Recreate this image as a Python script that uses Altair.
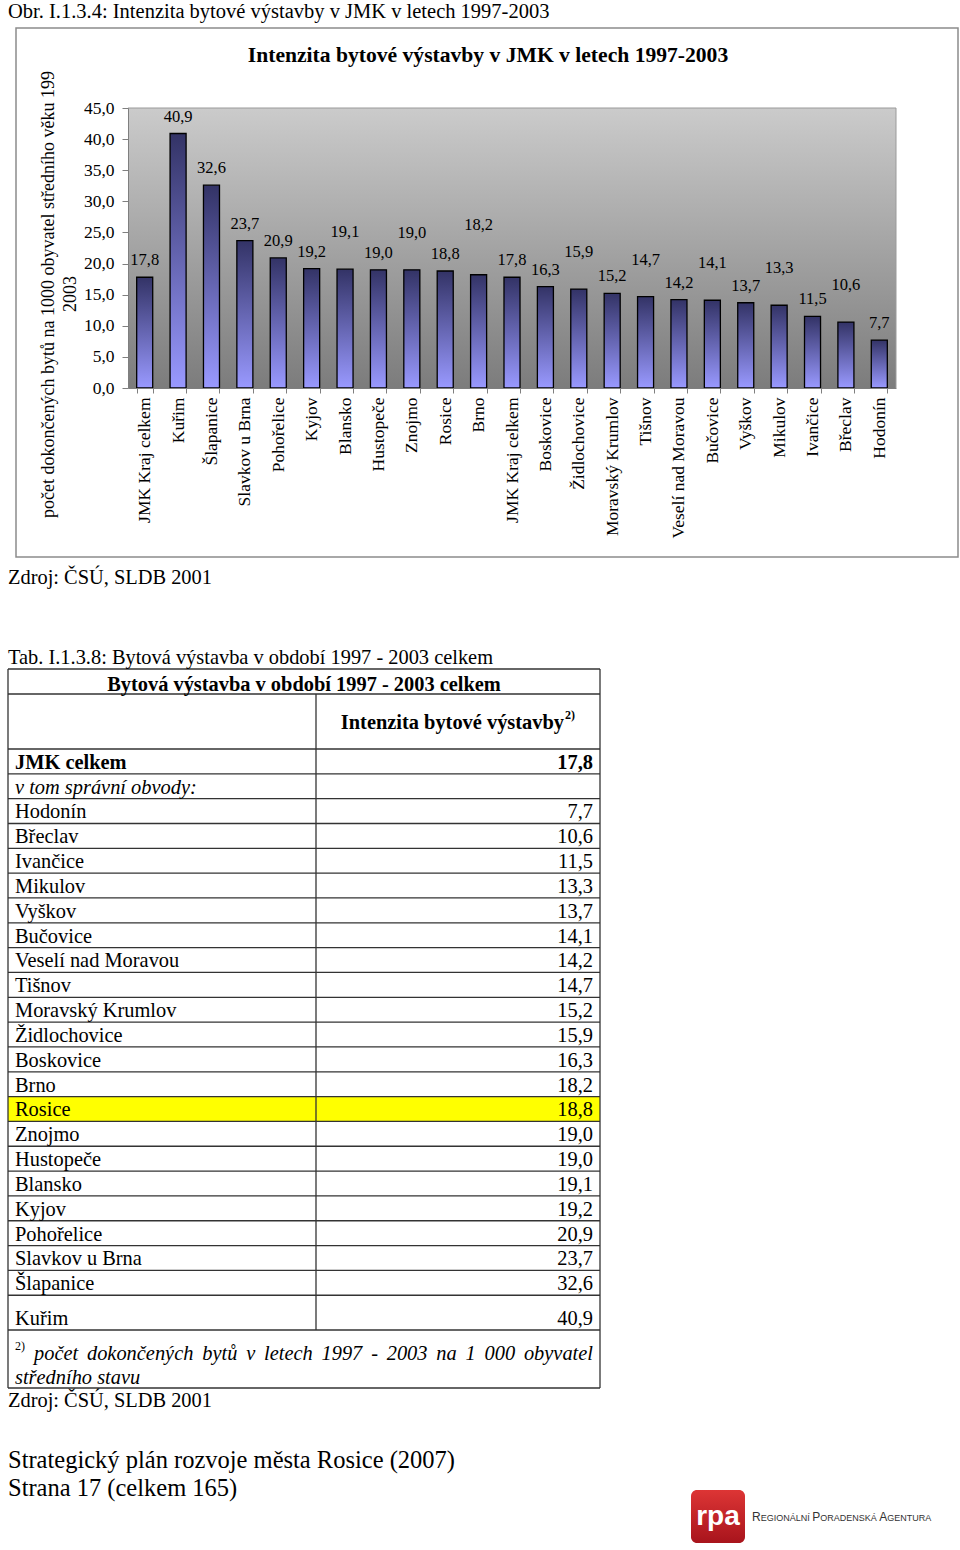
import json
import altair as alt
import pandas as pd

SERIF = "Liberation Serif"
SANS = "Liberation Sans"

# ---------------- data ----------------
bar_categories = ["JMK Kraj celkem", "Kuřim", "Šlapanice", "Slavkov u Brna", "Pohořelice", "Kyjov",
                  "Blansko", "Hustopeče", "Znojmo", "Rosice", "Brno", "JMK Kraj celkem", "Boskovice",
                  "Židlochovice", "Moravský Krumlov", "Tišnov", "Veselí nad Moravou", "Bučovice",
                  "Vyškov", "Mikulov", "Ivančice", "Břeclav", "Hodonín"]
bar_values = [17.8, 40.9, 32.6, 23.7, 20.9, 19.2, 19.1, 19.0, 19.0, 18.8, 18.2, 17.8, 16.3,
              15.9, 15.2, 14.7, 14.2, 14.1, 13.7, 13.3, 11.5, 10.6, 7.7]
y_tick_values = [0, 5, 10, 15, 20, 25, 30, 35, 40, 45]

table_names = ["JMK celkem", "v tom správní obvody:", "Hodonín", "Břeclav", "Ivančice", "Mikulov",
               "Vyškov", "Bučovice", "Veselí nad Moravou", "Tišnov", "Moravský Krumlov",
               "Židlochovice", "Boskovice", "Brno", "Rosice", "Znojmo", "Hustopeče", "Blansko",
               "Kyjov", "Pohořelice", "Slavkov u Brna", "Šlapanice", "Kuřim"]
table_values = [17.8, None, 7.7, 10.6, 11.5, 13.3, 13.7, 14.1, 14.2, 14.7, 15.2, 15.9, 16.3,
                18.2, 18.8, 19.0, 19.0, 19.1, 19.2, 20.9, 23.7, 32.6, 40.9]
highlight_name = "Rosice"
footnote_line1 = "počet dokončených bytů v letech 1997 - 2003 na 1 000 obyvatel"
logo_words = ["Regionální", "Poradenská", "Agentura"]

# ---------------- layout / style ----------------
label_row = [0, 0, 0, 0, 0, 0, 1, 0, 1, 0, 2, 0, 0, 1, 0, 1, 0, 1, 0, 1, 0, 1, 0]
row_span = [1.0] * 22 + [1.4]
P1X, P1Y, P1W, P1H = 128, 108, 768, 280
P2X, P2Y, P2W, P2H = 128, 749, 472, 581
LINE = "#333333"
COMMA = "replace(format(datum.v, '.1f'), '.', ',')"

BAR_GRAD = {"gradient": "linear", "x1": 0, "y1": 0, "x2": 0, "y2": 1,
            "stops": [{"offset": 0, "color": "#333366"}, {"offset": 1, "color": "#9999ff"}]}
BG_GRAD = {"gradient": "linear", "x1": 0, "y1": 0, "x2": 0, "y2": 1,
           "stops": [{"offset": 0, "color": "#cbcbcb"}, {"offset": 1, "color": "#7c7c7c"}]}
LOGO_GRAD = {"gradient": "linear", "x1": 0, "y1": 0, "x2": 0, "y2": 1,
             "stops": [{"offset": 0, "color": "#dd3535"}, {"offset": 1, "color": "#a8141c"}]}

# approximate advance widths (em) of Times italic glyphs, used to justify the footnote line
ITALIC_EM = {"a": .5, "b": .5, "c": .444, "č": .444, "d": .5, "e": .444, "ě": .444, "h": .5,
             "k": .444, "l": .278, "n": .5, "o": .5, "p": .5, "t": .278, "u": .5, "ů": .5,
             "v": .444, "y": .444, "ý": .444, "-": .333}
# approximate advance widths (em) of sans capitals, used for the small-caps logo text
SANS_EM = {"A": .667, "Á": .667, "D": .722, "E": .667, "G": .778, "I": .278, "Í": .278,
           "K": .667, "L": .556, "N": .722, "O": .778, "P": .667, "R": .722, "S": .667,
           "T": .611, "U": .722}

one = pd.DataFrame({"k": [0]})


def txt(s, x, y, ox, oy, size=20.4, **kw):
    props = dict(text=s, font=SERIF, fontSize=size, align="left", baseline="alphabetic", color="black")
    props.update(kw)
    return alt.Chart(one).mark_text(**props).encode(x=alt.value(x - ox), y=alt.value(y - oy))


def box(x1, y1, x2, y2, ox, oy, **kw):
    return alt.Chart(one).mark_rect(**kw).encode(
        x=alt.value(x1 - ox), x2=alt.value(x2 - ox), y=alt.value(y1 - oy), y2=alt.value(y2 - oy))


def hline(x1, x2, y, ox, oy, **kw):
    return alt.Chart(one).mark_rule(**kw).encode(
        x=alt.value(x1 - ox), x2=alt.value(x2 - ox), y=alt.value(y - oy))


def vline(x, y1, y2, ox, oy, **kw):
    return alt.Chart(one).mark_rule(**kw).encode(
        x=alt.value(x - ox), y=alt.value(y1 - oy), y2=alt.value(y2 - oy))


def justified(s, x_left, x_right, y, ox, oy, size=20.4, **kw):
    words = s.split(" ")
    widths = [sum(ITALIC_EM.get(ch, .5) for ch in w) * size for w in words]
    gap = (x_right - x_left - sum(widths)) / (len(words) - 1)
    out, x = [], x_left
    for w, wd in zip(words, widths):
        out.append(txt(w, x, y, ox, oy, size=size, **kw))
        x += wd + gap
    return out


def small_caps(words, x, y, ox, oy, big=12.0, small=9.0, **kw):
    out = []
    for w in words:
        head, tail = w[0].upper(), w[1:].upper()
        out.append(txt(head, x, y, ox, oy, size=big, font=SANS, **kw))
        x += SANS_EM.get(head, .7) * big
        out.append(txt(tail, x, y, ox, oy, size=small, font=SANS, **kw))
        x += sum(SANS_EM.get(ch, .7) for ch in tail) * small + 0.278 * small
    return out


# ---------------- panel 1 : bar chart ----------------
df_bar = pd.DataFrame({"idx": list(range(len(bar_values))), "v": bar_values, "row": label_row})
label_expr = json.dumps(bar_categories, ensure_ascii=False) + "[datum.value]"

x_enc = alt.X("idx:O", scale=alt.Scale(paddingInner=0.52, paddingOuter=0.26),
              axis=alt.Axis(title=None, labelExpr=label_expr, labelAngle=270, labelFont=SERIF,
                            labelFontSize=17.5, labelColor="black", labelPadding=4, labelLimit=400,
                            tickBand="extent", tickSize=5, tickColor="#7f7f7f",
                            domainColor="#7f7f7f", grid=False, zindex=1))
y_enc = alt.Y("v:Q", scale=alt.Scale(domain=[0, 45], nice=False),
              axis=alt.Axis(title=None, values=y_tick_values,
                            labelExpr="replace(format(datum.value, '.1f'), '.', ',')",
                            labelFont=SERIF, labelFontSize=17.5, labelColor="black", labelPadding=8,
                            tickSize=6, tickColor="#7f7f7f", domainColor="#7f7f7f", grid=False,
                            zindex=1))

bars = alt.Chart(df_bar).mark_bar(fill=BAR_GRAD, stroke="black", strokeWidth=1.3).encode(x=x_enc, y=y_enc)
labels = [
    alt.Chart(df_bar).transform_filter(f"datum.row == {r}").transform_calculate(t=COMMA)
    .mark_text(font=SERIF, fontSize=16.5, baseline="middle", dy=d, color="black")
    .encode(x=x_enc, y=y_enc, text="t:N")
    for r, d in [(0, -17), (1, -37), (2, -50)]
]

o1 = (P1X, P1Y)
panel1 = alt.layer(
    box(0, 0, 960, 1550, *o1, fill="white"),
    box(16, 28, 958, 557, *o1, fill="white", stroke="#8c8c8c", strokeWidth=1.5),
    box(P1X, P1Y, P1X + P1W, P1Y + P1H, *o1, fill=BG_GRAD),
    hline(P1X, P1X + P1W, P1Y, *o1, color="#9a9a9a", strokeWidth=1),
    vline(P1X + P1W, P1Y, P1Y + P1H, *o1, color="#9a9a9a", strokeWidth=1),
    bars,
    *labels,
    txt("Obr. I.1.3.4: Intenzita bytové výstavby v JMK v letech 1997-2003", 8, 17.5, *o1, size=20.5),
    txt("Intenzita bytové výstavby v JMK v letech 1997-2003", 488, 62, *o1, size=21.6,
        fontWeight="bold", align="center"),
    txt("počet dokončených bytů na 1000 obyvatel středního věku 199", 48.5, 518, *o1, size=18,
        angle=270, baseline="middle"),
    txt("2003", 70.5, 294, *o1, size=18, angle=270, baseline="middle", align="center"),
    txt("Zdroj: ČSÚ, SLDB 2001", 8, 584, *o1),
).properties(width=P1W, height=P1H)

# ---------------- panel 2 : table ----------------
tops, bots, acc = [], [], 0.0
for s in row_span:
    tops.append(acc)
    acc += s
    bots.append(acc)
df_tab = pd.DataFrame({"i": list(range(len(table_names))), "name": table_names, "v": table_values,
                       "top": tops, "bot": bots})
df_b = pd.DataFrame({"b": tops + [bots[-1]]})
TY = alt.Scale(domain=[0, acc], reverse=True, nice=False, zero=False)

o2 = (P2X, P2Y)
TL, TR, TM = 8, 600, 316
NAME_X, VAL_X = 15, 593

highlight = alt.Chart(df_tab).transform_filter(alt.datum.name == highlight_name).mark_rect(
    fill="#ffff00").encode(x=alt.value(TL - P2X), x2=alt.value(TR - P2X),
                          y=alt.Y("top:Q", scale=TY, axis=None), y2="bot:Q")
row_rules = alt.Chart(df_b).mark_rule(color=LINE, strokeWidth=1.3).encode(
    x=alt.value(TL - P2X), x2=alt.value(TR - P2X), y=alt.Y("b:Q", scale=TY, axis=None))


def name_layer(flt, **kw):
    return alt.Chart(df_tab).transform_filter(flt).mark_text(
        font=SERIF, fontSize=20.4, align="left", baseline="alphabetic", dy=-5, color="black", **kw
    ).encode(x=alt.value(NAME_X - P2X), y=alt.Y("bot:Q", scale=TY, axis=None), text="name:N")


def value_layer(flt, **kw):
    return alt.Chart(df_tab).transform_filter(flt).transform_calculate(t=COMMA).mark_text(
        font=SERIF, fontSize=20.4, align="right", baseline="alphabetic", dy=-5, color="black", **kw
    ).encode(x=alt.value(VAL_X - P2X), y=alt.Y("bot:Q", scale=TY, axis=None), text="t:N")


panel2 = alt.layer(
    highlight,
    row_rules,
    hline(TL, TR, 669, *o2, color=LINE, strokeWidth=1.3),
    hline(TL, TR, 694, *o2, color=LINE, strokeWidth=1.3),
    hline(TL, TR, 1388, *o2, color=LINE, strokeWidth=1.3),
    vline(TL, 669, 1388, *o2, color=LINE, strokeWidth=1.3),
    vline(TR, 669, 1388, *o2, color=LINE, strokeWidth=1.3),
    vline(TM, 694, P2Y + P2H, *o2, color=LINE, strokeWidth=1.3),
    name_layer("datum.i == 0", fontWeight="bold"),
    name_layer("datum.i == 1", fontStyle="italic"),
    name_layer("datum.i >= 2"),
    value_layer("datum.i == 0", fontWeight="bold"),
    value_layer("datum.i >= 2"),
    txt("Tab. I.1.3.8: Bytová výstavba v období 1997 - 2003 celkem", 8, 664, *o2),
    txt("Bytová výstavba v období 1997 - 2003 celkem", 304, 690.5, *o2, fontWeight="bold", align="center"),
    txt("Intenzita bytové výstavby", 564, 729, *o2, fontWeight="bold", align="right"),
    txt("2)", 565, 719, *o2, size=12, fontWeight="bold"),
    txt("2)", 15, 1350, *o2, size=12),
    *justified(footnote_line1, 34, 593, 1360, *o2, fontStyle="italic"),
    txt("středního stavu", 15, 1384, *o2, fontStyle="italic"),
    txt("Zdroj: ČSÚ, SLDB 2001", 8, 1407, *o2),
    txt("Strategický plán rozvoje města Rosice (2007)", 8, 1468, *o2, size=24.5),
    txt("Strana 17 (celkem 165)", 8, 1496, *o2, size=24.5),
    box(691, 1490, 745, 1543, *o2, fill=LOGO_GRAD, cornerRadius=6),
    txt("rpa", 718, 1517, *o2, size=28, font=SANS, fontWeight="bold", color="white",
        align="center", baseline="middle"),
    *small_caps(logo_words, 752, 1521, *o2, color="#333333"),
).properties(width=P2W, height=P2H)

chart = alt.vconcat(panel1, panel2, spacing=P2Y - (P1Y + P1H), bounds="flush").properties(
    padding=0, background="white").configure_view(strokeWidth=0)

chart.save("out.html", embed_options={"renderer": "svg", "actions": False})
